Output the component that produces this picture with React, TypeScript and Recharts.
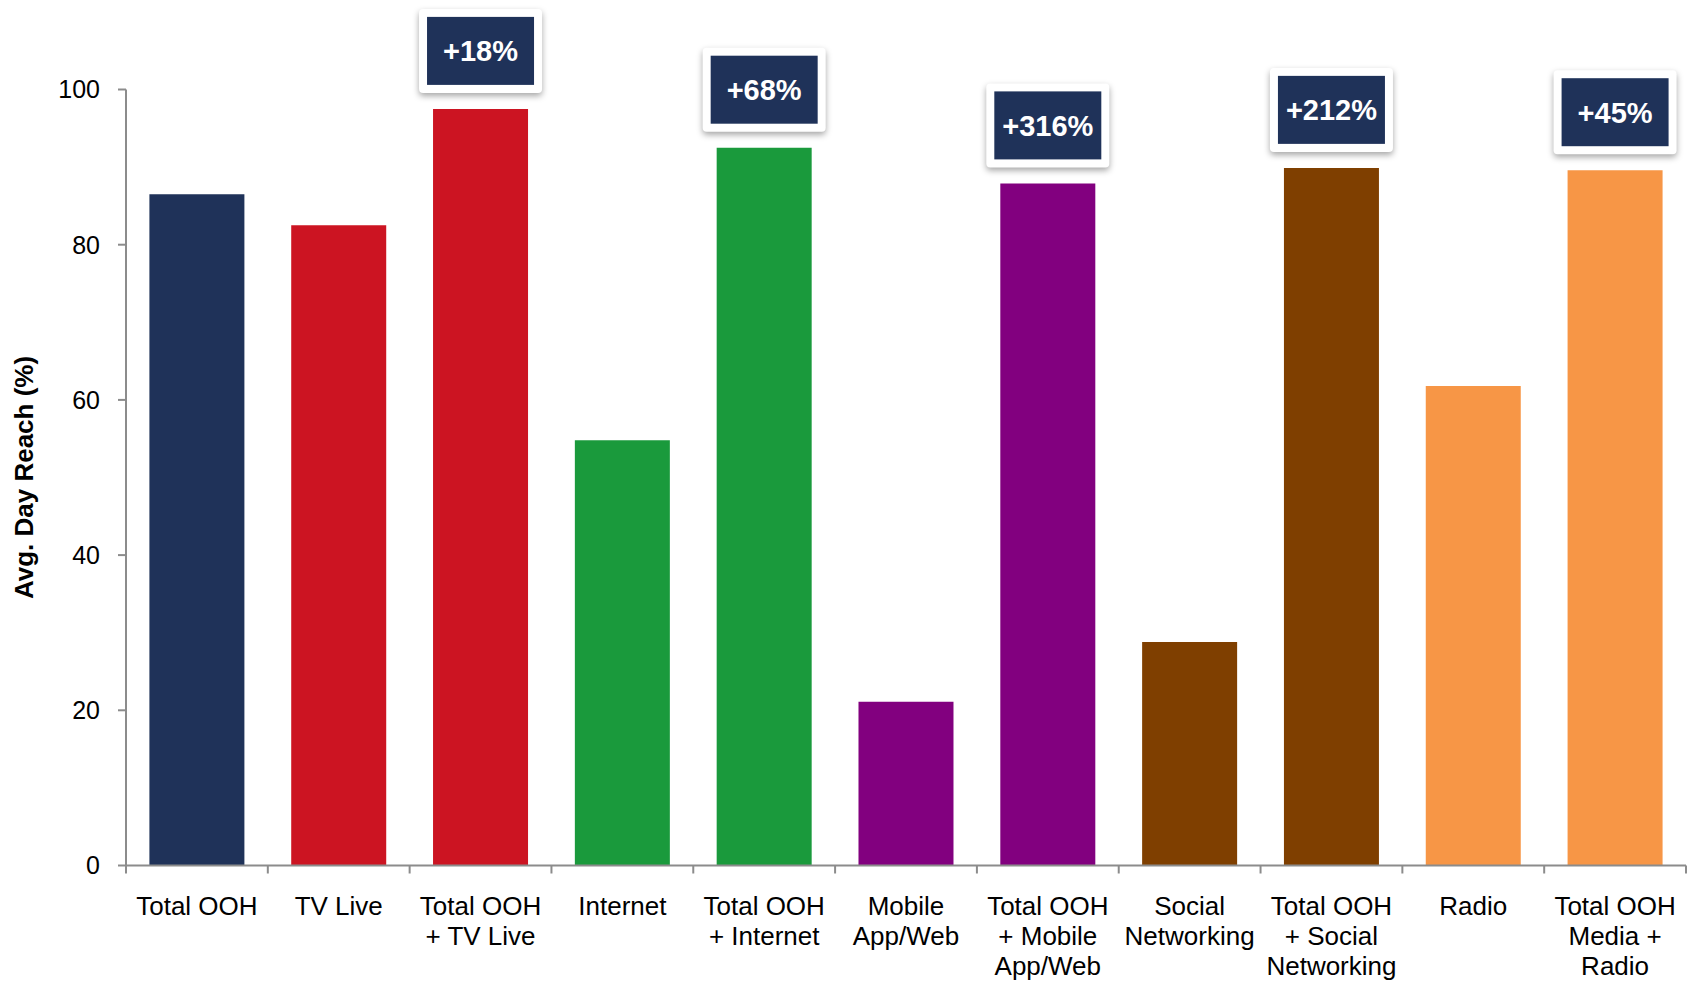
import React from "react";
import { BarChart, Bar, XAxis, YAxis, Cell, LabelList } from "recharts";

const categories = [
  "Total OOH",
  "TV Live",
  "Total OOH + TV Live",
  "Internet",
  "Total OOH + Internet",
  "Mobile App/Web",
  "Total OOH + Mobile App/Web",
  "Social Networking",
  "Total OOH + Social Networking",
  "Radio",
  "Total OOH Media + Radio",
];

// category names as they wrap under the axis
const tickLines = [
  ["Total OOH"],
  ["TV Live"],
  ["Total OOH", "+ TV Live"],
  ["Internet"],
  ["Total OOH", "+ Internet"],
  ["Mobile", "App/Web"],
  ["Total OOH", "+ Mobile", "App/Web"],
  ["Social", "Networking"],
  ["Total OOH", "+ Social", "Networking"],
  ["Radio"],
  ["Total OOH", "Media +", "Radio"],
];

const reach = [86.5, 82.5, 97.5, 54.8, 92.5, 21.1, 87.9, 28.8, 89.9, 61.8, 89.6];

const uplift = ["", "", "+18%", "", "+68%", "", "+316%", "", "+212%", "", "+45%"];

const barColors = [
  "#1F3259",
  "#CC1422",
  "#CC1422",
  "#1A9A3C",
  "#1A9A3C",
  "#82007F",
  "#82007F",
  "#7F3F00",
  "#7F3F00",
  "#F79646",
  "#F79646",
];

const yTicks = [0, 20, 40, 60, 80, 100];

const data = categories.map((name, i) => ({
  name,
  reach: reach[i],
  uplift: uplift[i],
}));

const WIDTH = 1690;
const HEIGHT = 982;
const Y_AXIS_WIDTH = 126;
const MARGIN = { top: 89.5, right: 4, bottom: 0, left: 0 };
const BAND = (WIDTH - Y_AXIS_WIDTH - MARGIN.right) / categories.length;
const FONT = "'Liberation Sans', Arial, sans-serif";
const AXIS_GREY = "#8C8C8C";

const CategoryTick = (props: any) => {
  const { x, y, payload } = props;
  const lines = tickLines[payload.index] || [String(payload.value)];
  const isLast = payload.index === categories.length - 1;
  return (
    <g>
      <line x1={x - BAND / 2} y1={y} x2={x - BAND / 2} y2={y + 8} stroke={AXIS_GREY} strokeWidth={2} />
      {isLast && (
        <line x1={x + BAND / 2} y1={y} x2={x + BAND / 2} y2={y + 8} stroke={AXIS_GREY} strokeWidth={2} />
      )}
      <text x={x} y={y + 49.5} textAnchor="middle" fontFamily={FONT} fontSize={26} fill="#000">
        {lines.map((line: string, i: number) => (
          <tspan key={i} x={x} dy={i === 0 ? 0 : 30}>
            {line}
          </tspan>
        ))}
      </text>
    </g>
  );
};

const UpliftBadge = (props: any) => {
  const { x, y, width, value } = props;
  if (!value) return null;
  const cx = x + width / 2;
  const w = 107;
  const h = 68;
  const bottom = y - 24;
  const top = bottom - h;
  return (
    <g>
      <rect
        x={cx - w / 2 - 8}
        y={top - 8}
        width={w + 16}
        height={h + 16}
        rx={4}
        fill="#fff"
        style={{ filter: "drop-shadow(0px 3px 3px rgba(0,0,0,0.35))" }}
      />
      <rect x={cx - w / 2} y={top} width={w} height={h} fill="#1F3259" />
      <text
        x={cx}
        y={top + h / 2 + 10.5}
        textAnchor="middle"
        fontFamily={FONT}
        fontWeight="bold"
        fontSize={29}
        fill="#fff"
      >
        {value}
      </text>
    </g>
  );
};

const YTitle = (props: any) => {
  const { viewBox } = props;
  const cy = viewBox.y + viewBox.height / 2;
  return (
    <text
      x={24}
      y={cy}
      transform={`rotate(-90, 24, ${cy})`}
      textAnchor="middle"
      dominantBaseline="central"
      fontFamily={FONT}
      fontWeight="bold"
      fontSize={26}
      fill="#000"
    >
      Avg. Day Reach (%)
    </text>
  );
};

export default function App() {
  return (
    <div style={{ position: "absolute", left: 0, top: 0, width: WIDTH, height: HEIGHT, background: "#fff" }}>
      <BarChart width={WIDTH} height={HEIGHT} data={data} margin={MARGIN} barCategoryGap="16.5%">
        <XAxis
          dataKey="name"
          height={HEIGHT - 865.5}
          axisLine={{ stroke: AXIS_GREY, strokeWidth: 2 }}
          tickLine={false}
          tickSize={0}
          tickMargin={0}
          interval={0}
          tick={<CategoryTick />}
        />
        <YAxis
          width={Y_AXIS_WIDTH}
          domain={[0, 100]}
          ticks={yTicks}
          axisLine={{ stroke: AXIS_GREY, strokeWidth: 2 }}
          tickLine={{ stroke: AXIS_GREY, strokeWidth: 2 }}
          tickSize={8}
          tickMargin={18}
          tick={{ fontFamily: FONT, fontSize: 25, fill: "#000" }}
          label={<YTitle />}
        />
        <Bar dataKey="reach" isAnimationActive={false}>
          {data.map((_, i) => (
            <Cell key={`cell-${i}`} fill={barColors[i]} />
          ))}
          <LabelList dataKey="uplift" content={<UpliftBadge />} />
        </Bar>
      </BarChart>
    </div>
  );
}
